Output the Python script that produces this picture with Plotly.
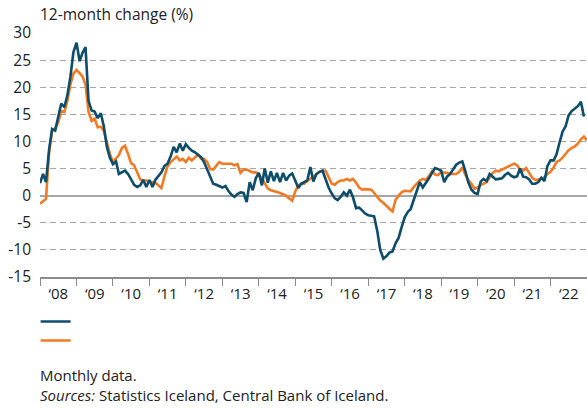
import pandas as pd
import plotly.graph_objects as go

# Monthly 12-month change (%), Jan 2008 onward
blue_values = [
    2.3, 4.0, 2.5, 8.5, 12.3, 12.0, 14.5, 17.0, 16.3, 18.5, 22.0, 26.5,      # 2008
    28.2, 24.8, 26.3, 27.4, 17.5, 15.7, 15.5, 14.3, 15.2, 12.8, 9.0, 7.0,    # 2009
    5.8, 6.3, 4.0, 4.3, 4.6, 4.0, 3.0, 2.0, 1.6, 1.9, 2.9, 1.6,              # 2010
    2.9, 1.6, 2.9, 3.6, 4.3, 5.5, 5.9, 7.2, 9.0, 8.0, 9.6, 8.3,              # 2011
    9.5, 8.8, 8.3, 8.0, 7.6, 7.1, 6.2, 4.8, 3.4, 2.2, 2.0, 1.8,              # 2012
    1.5, 1.8, 0.9, 0.2, -0.2, 0.3, 0.6, 0.5, -1.2, 2.5, 1.0, 3.2,            # 2013
    4.2, 1.9, 5.0, 2.4, 4.5, 2.7, 4.2, 2.5, 4.2, 2.8, 3.7, 4.1,              # 2014
    2.9, 1.4, 2.2, 2.5, 2.8, 5.3, 2.6, 4.0, 4.4, 4.6, 3.0, 1.5,              # 2015
    0.4, -0.5, -0.8, -0.2, 0.6, 0.0, 1.1, -0.3, -2.3, -2.2, -2.7, -3.3,      # 2016
    -3.6, -3.7, -3.8, -6.5, -10.0, -11.6, -11.2, -10.5, -10.3, -8.8, -7.8, -5.8,  # 2017
    -4.0, -3.0, -2.5, -0.8, 1.0, 2.5, 1.5, 2.3, 3.2, 4.2, 5.1, 4.9,          # 2018
    4.6, 2.5, 3.5, 4.0, 4.8, 5.7, 6.1, 6.3, 4.5, 2.4, 1.1, 0.5,              # 2019
    0.3, 2.6, 3.1, 2.7, 4.0, 3.4, 3.0, 3.1, 3.2, 3.8, 4.2, 3.7,              # 2020
    3.4, 3.6, 5.0, 3.5, 3.4, 3.0, 2.2, 2.2, 2.5, 3.3, 2.7, 5.5,              # 2021
    6.5, 6.5, 7.6, 9.8, 11.8, 12.8, 14.8, 15.6, 16.0, 16.5, 17.3, 14.6,      # 2022
]

orange_values = [
    -1.5, -1.0, -0.6, 8.0, 11.8, 12.4, 13.5, 15.6, 15.4, 17.5, 20.5, 22.5,   # 2008
    23.2, 22.6, 22.0, 20.5, 15.5, 13.8, 14.2, 12.6, 12.7, 12.0, 9.8, 7.7,    # 2009
    6.2, 6.8, 7.5, 8.8, 9.2, 7.7, 6.0, 5.6, 4.3, 3.0, 2.8, 2.8,              # 2010
    2.6, 2.5, 2.4, 1.9, 1.4, 3.6, 5.4, 6.2, 6.7, 7.2, 6.5, 6.8,              # 2011
    6.2, 7.0, 6.5, 7.0, 7.6, 6.8, 6.8, 6.2, 4.9, 4.8, 5.6, 6.2,              # 2012
    5.9, 5.9, 5.9, 5.9, 5.6, 5.8, 4.2, 4.8, 4.8, 4.6, 4.3, 4.3,              # 2013
    3.9, 3.2, 2.3, 1.3, 1.0, 0.9, 0.7, 0.5, 0.3, 0.0, -0.5, -0.9,            # 2014
    0.8, 1.9, 2.2, 2.2, 2.7, 3.2, 3.6, 4.0, 4.4, 4.6, 4.6, 3.5,              # 2015
    2.2, 2.0, 2.5, 2.8, 2.8, 3.1, 2.8, 3.1, 2.4, 1.5, 1.1, 1.2,              # 2016
    1.2, 1.1, 0.5, -0.3, -0.9, -1.3, -1.9, -2.4, -2.9, -0.8, 0.0, 0.6,       # 2017
    0.9, 0.9, 0.8, 1.6, 2.3, 2.8, 3.1, 2.9, 3.6, 4.5, 3.9, 3.8,              # 2018
    4.3, 4.3, 4.2, 4.0, 4.0, 4.0, 4.4, 5.2, 3.8, 2.8, 2.2, 1.3,              # 2019
    1.5, 2.0, 2.2, 2.5, 3.4, 4.2, 4.6, 4.5, 4.8, 5.1, 5.4, 5.7,              # 2020
    5.9, 5.6, 4.8, 4.6, 5.1, 4.2, 3.3, 2.9, 3.0, 3.1, 3.4, 4.0,              # 2021
    4.4, 5.2, 6.2, 6.5, 7.0, 7.8, 8.4, 8.8, 9.1, 9.6, 10.4, 10.9,            # 2022
    10.2,                                                                     # 2023
]

start_month = "2008-01-01"
y_ticks = [-15, -10, -5, 0, 5, 10, 15, 20, 25, 30]
title_text = "12-month change (%)"
note_text = "Monthly data."
source_text = "<i>Sources:</i> Statistics Iceland, Central Bank of Iceland."

blue_dates = pd.date_range(start_month, periods=len(blue_values), freq="MS")
orange_dates = pd.date_range(start_month, periods=len(orange_values), freq="MS")

BLUE = "#0b4d6b"
ORANGE = "#f37a22"
FONT = "Open Sans, Noto Sans, sans-serif"
TXT = "#222222"

fig = go.Figure()
fig.add_trace(go.Scatter(x=orange_dates, y=orange_values, mode="lines",
                         line=dict(color=ORANGE, width=2.6), name=" ",
                         legendrank=2))
fig.add_trace(go.Scatter(x=blue_dates, y=blue_values, mode="lines",
                         line=dict(color=BLUE, width=2.6), name=" ",
                         legendrank=1))

fig.update_layout(
    width=587, height=408,
    margin=dict(l=40, r=0, t=33, b=131, autoexpand=False),
    paper_bgcolor="white", plot_bgcolor="white",
    font=dict(family=FONT, size=14, color=TXT),
    showlegend=True,
    legend=dict(x=-0.008, xanchor="left", y=-0.123, yanchor="top",
                bgcolor="rgba(0,0,0,0)", itemwidth=30,
                tracegroupgap=0, font=dict(size=9),
                traceorder="normal"),
    annotations=[
        dict(text=title_text, xref="paper", yref="paper", x=0, y=1,
             xanchor="left", yanchor="bottom", yshift=6, showarrow=False,
             xshift=-2, font=dict(size=15.5, color=TXT)),
        dict(text=note_text, xref="paper", yref="paper", x=0, y=0,
             xanchor="left", yanchor="middle", yshift=-98, showarrow=False,
             xshift=-2, font=dict(size=15, color=TXT)),
        dict(text=source_text, xref="paper", yref="paper", x=0, y=0,
             xanchor="left", yanchor="middle", yshift=-118, showarrow=False,
             xshift=-2, font=dict(size=15, color=TXT)),
    ],
)

fig.update_xaxes(
    type="date", range=["2008-01-01", "2023-01-01"], automargin=False,
    tick0="2008-01-01", dtick="M12", tickformat="\u2018%y",
    ticklabelmode="period", ticks="outside", ticklen=7, tickwidth=1,
    tickcolor="#8c8c8c", showline=True, linecolor="#8c8c8c", linewidth=1.5,
    showgrid=False, zeroline=False, tickfont=dict(size=15, color=TXT),
    ticklabelstandoff=-5,
)
fig.update_yaxes(
    range=[-15, 30], tickvals=y_ticks, ticktext=[str(v) for v in y_ticks],
    automargin=False,
    showgrid=True, gridcolor="#a6a6a6", gridwidth=1.2, griddash="6px,4px",
    zeroline=True, zerolinecolor="#a6a6a6", zerolinewidth=2,
    showline=False, ticks="", ticklabelstandoff=8,
    tickfont=dict(size=15.5, color=TXT),
)

fig.write_html(
    "out.html",
    config={"displayModeBar": False},
    post_script="document.body.style.margin='0';document.body.style.padding='0';",
)
